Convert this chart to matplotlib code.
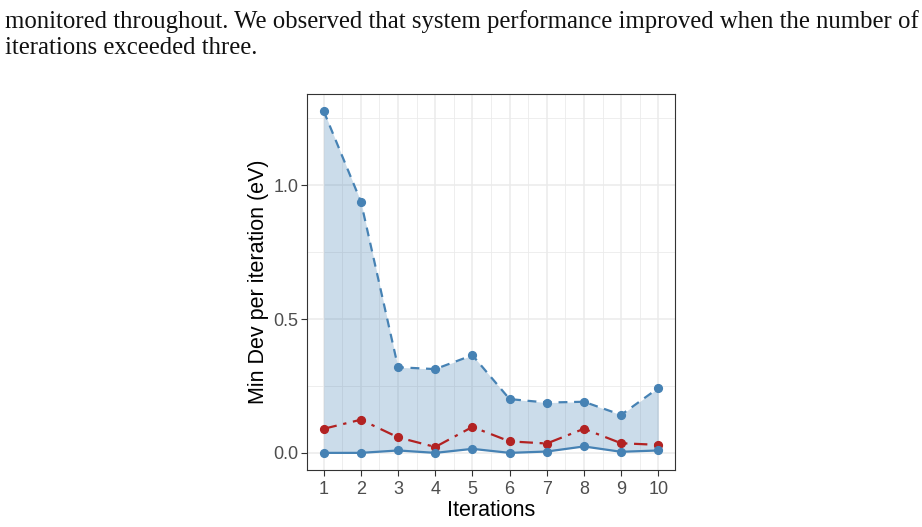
import matplotlib.pyplot as plt
from matplotlib.ticker import MultipleLocator

# values
iterations = [1, 2, 3, 4, 5, 6, 7, 8, 9, 10]
max_dev = [1.277, 0.939, 0.320, 0.313, 0.365, 0.201, 0.188, 0.191, 0.142, 0.242]
mean_dev = [0.090, 0.124, 0.058, 0.022, 0.097, 0.043, 0.035, 0.090, 0.036, 0.030]
min_dev = [0.000, 0.000, 0.009, 0.000, 0.015, 0.000, 0.005, 0.024, 0.004, 0.009]

caption_lines = [
    "monitored throughout. We observed that system performance improved when the number of",
    "iterations exceeded three.",
]

BLUE = "#4682B4"
RED = "#B22222"

W, H = 922, 527
fig = plt.figure(figsize=(W / 100, H / 100), dpi=100)

# body text above the figure
for i, line in enumerate(caption_lines):
    fig.text(5 / W, 1 - (22 + 26 * i) / H, line, family="Liberation Serif",
             fontsize=17.8, color="#111111", va="center", ha="left")

# panel box in pixels: left 307, right 675, top 94, bottom 470
ax = fig.add_axes([307 / W, 1 - 470 / H, (675 - 307) / W, (470 - 94) / H])

ax.fill_between(iterations, min_dev, max_dev, color=BLUE, alpha=0.28,
                linewidth=0, zorder=2)
ax.plot(iterations, max_dev, color=BLUE, lw=1.6, dashes=(4, 3), marker="o",
        ms=5.6, zorder=3)
ax.plot(iterations, mean_dev, color=RED, lw=1.6, dashes=(6, 3, 1.5, 3),
        marker="o", ms=5.6, zorder=3)
ax.plot(iterations, min_dev, color=BLUE, lw=1.6, marker="o", ms=5.6, zorder=3)

ax.set_xlim(0.55, 10.45)
ax.set_ylim(-0.064, 1.341)
ax.set_xticks(iterations)
ax.xaxis.set_minor_locator(MultipleLocator(0.5))
ax.yaxis.set_major_locator(MultipleLocator(0.5))
ax.yaxis.set_minor_locator(MultipleLocator(0.25))
ax.set_yticklabels([f"{v:.1f}" for v in ax.get_yticks()])

ax.grid(True, which="major", color="#EBEBEB", lw=1.1, zorder=0)
ax.grid(True, which="minor", color="#EBEBEB", lw=0.6, zorder=0)
ax.set_axisbelow(True)

for s in ax.spines.values():
    s.set_color("#333333")
    s.set_linewidth(0.8)

ax.tick_params(which="major", length=4, width=0.8, color="#333333",
               labelcolor="#4D4D4D", labelsize=13, pad=2)
ax.tick_params(axis="x", which="major", pad=4)
ax.tick_params(which="minor", length=0)
for lab in ax.get_xticklabels() + ax.get_yticklabels():
    lab.set_family("Liberation Sans")

ax.set_xlabel("Iterations", family="Liberation Sans", fontsize=15.5, labelpad=1)
ax.set_ylabel("Min Dev per iteration (eV)", family="Liberation Sans",
              fontsize=15.5, labelpad=3)

fig.savefig("out.png", dpi=100)
